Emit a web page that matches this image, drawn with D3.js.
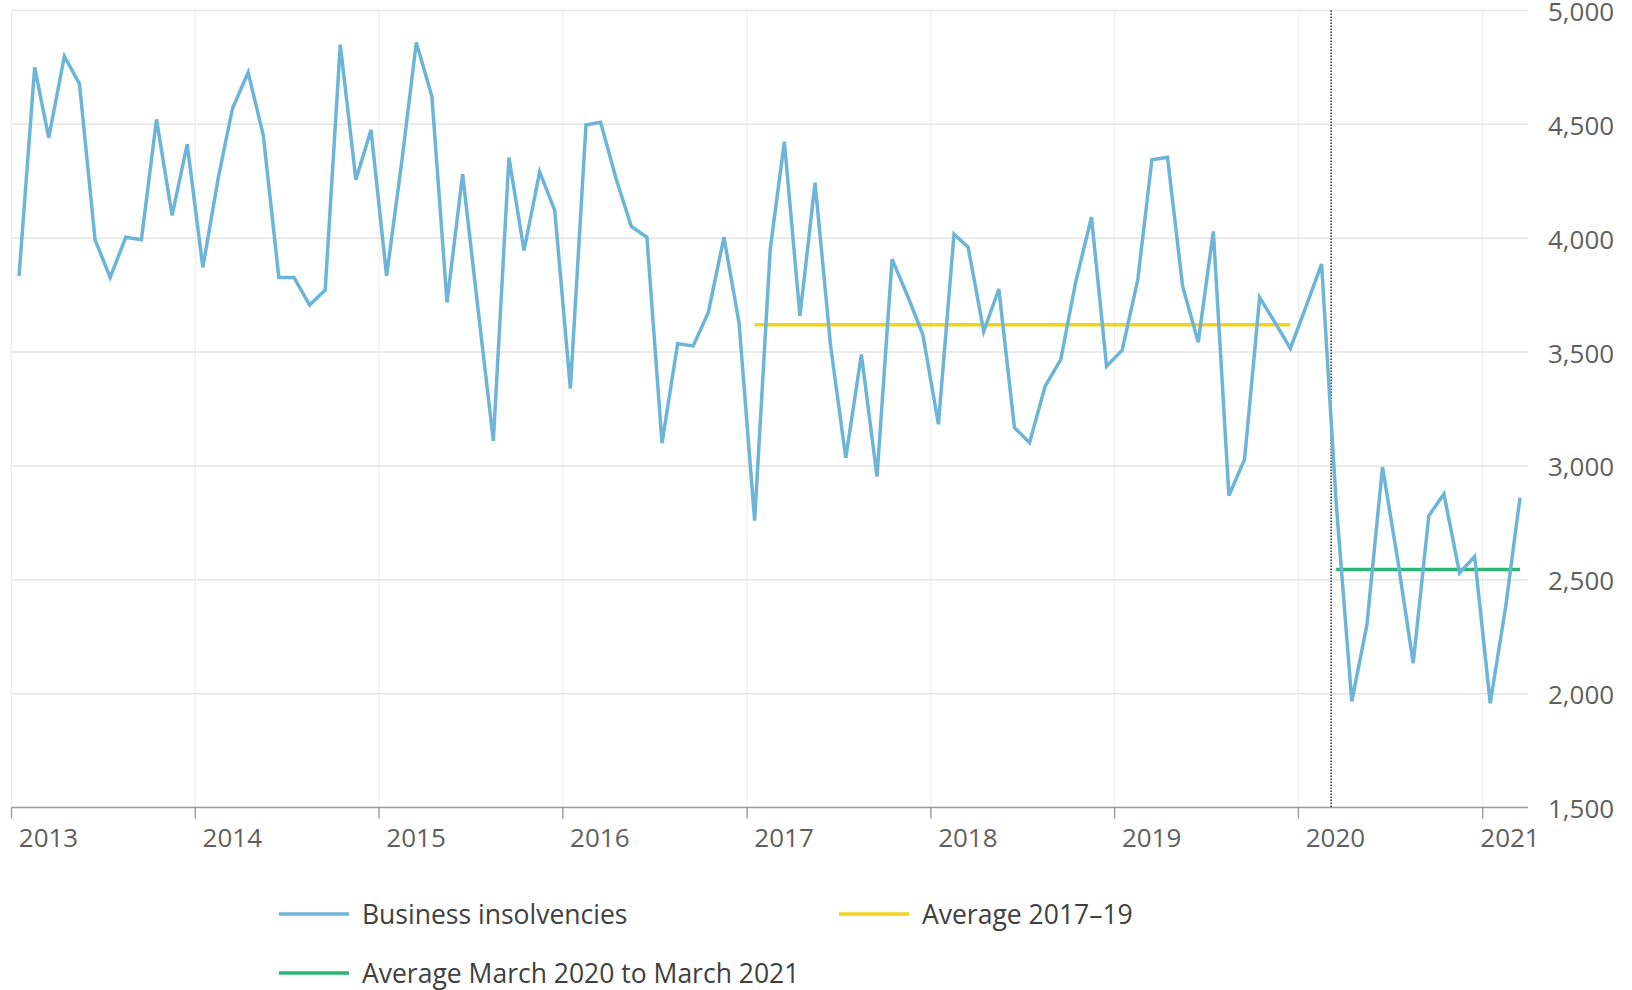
<!DOCTYPE html>
<html>
<head>
<meta charset="utf-8">
<script src="https://cdn.jsdelivr.net/npm/d3@7"></script>
<style>
  html, body { margin: 0; padding: 0; background: #ffffff; }
  svg { display: block; font-family: "Open Sans", "Noto Sans", sans-serif; }
</style>
</head>
<body>
<svg id="chart" width="1632" height="990"></svg>
<script>
// Monthly business insolvencies, January 2013 to March 2021
const years = [2013, 2014, 2015, 2016, 2017, 2018, 2019, 2020, 2021];
const insolvencies2013 = [3835, 4750, 4441, 4799, 4678, 3993, 3828, 4004, 3993, 4522, 4100, 4413];
const insolvencies2014 = [3872, 4269, 4571, 4728, 4453, 3828, 3828, 3707, 3772, 4850, 4257, 4475];
const insolvencies2015 = [3835, 4350, 4860, 4622, 3718, 4281, 3700, 3110, 4354, 3946, 4291, 4122];
const insolvencies2016 = [3340, 4497, 4509, 4260, 4052, 4004, 3100, 3537, 3527, 3674, 4004, 3629];
const insolvencies2017 = [2760, 3953, 4424, 3659, 4244, 3525, 3036, 3489, 2953, 3908, 3745, 3577];
const insolvencies2018 = [3183, 4018, 3961, 3591, 3777, 3168, 3102, 3350, 3467, 3811, 4092, 3438];
const insolvencies2019 = [3508, 3818, 4344, 4355, 3789, 3543, 4030, 2870, 3029, 3739, 3628, 3516];
const insolvencies2020 = [3700, 3886, 2838, 1966, 2302, 2995, 2590, 2134, 2781, 2877, 2530, 2602];
const insolvencies2021 = [1958, 2387, 2860];
const seriesByYear = [insolvencies2013, insolvencies2014, insolvencies2015, insolvencies2016,
  insolvencies2017, insolvencies2018, insolvencies2019, insolvencies2020, insolvencies2021];

// Reference averages
const average2017to2019 = 3620;
const averageMar2020toMar2021 = 2545;

const yTickValues = [1500, 2000, 2500, 3000, 3500, 4000, 4500, 5000];
const xTickYears = [2013, 2014, 2015, 2016, 2017, 2018, 2019, 2020, 2021];
const legendLabels = ["Business insolvencies", "Average 2017\u201319", "Average March 2020 to March 2021"];

const colors = { series: "#6db5d8", avgPre: "#f2d21e", avgPost: "#2cb674" };

// Build monthly points (plotted mid-month)
const points = [];
seriesByYear.forEach((vals, yi) => {
  vals.forEach((v, m) => points.push({ date: new Date(years[yi], m, 16), value: v }));
});

const svg = d3.select("#chart");
const plotLeft = 11.5, plotRight = 1528, plotTop = 10.5, plotBottom = 807.5;

const x = d3.scaleTime()
  .domain([new Date(2013, 0, 1), new Date(2021, 3, 1)])
  .range([plotLeft, plotRight]);
const y = d3.scaleLinear()
  .domain([1500, 5000])
  .range([plotBottom, plotTop]);

// Horizontal grid
svg.append("g").selectAll("line")
  .data(yTickValues.filter(d => d !== 1500))
  .join("line")
  .attr("x1", plotLeft).attr("x2", plotRight)
  .attr("y1", d => y(d)).attr("y2", d => y(d))
  .attr("stroke", "#e4e4e4").attr("stroke-width", 1.5);

// Vertical grid at year boundaries
const yearDates = xTickYears.map(yr => new Date(yr, 0, 1));
svg.append("g").selectAll("line")
  .data(yearDates)
  .join("line")
  .attr("x1", d => x(d)).attr("x2", d => x(d))
  .attr("y1", plotTop).attr("y2", plotBottom)
  .attr("stroke", "#ececec").attr("stroke-width", 1);

// Y axis labels on the right
svg.append("g").selectAll("text")
  .data(yTickValues)
  .join("text")
  .attr("x", 1548)
  .attr("y", d => y(d) + 10.5)
  .attr("fill", "#5f5f5f")
  .attr("font-size", 26)
  .text(d => d3.format(",")(d));

// X axis line and ticks
svg.append("line")
  .attr("x1", plotLeft).attr("x2", plotRight)
  .attr("y1", plotBottom).attr("y2", plotBottom)
  .attr("stroke", "#9c9c9c").attr("stroke-width", 1.6);
svg.append("g").selectAll("line")
  .data(yearDates)
  .join("line")
  .attr("x1", d => x(d)).attr("x2", d => x(d))
  .attr("y1", plotBottom).attr("y2", plotBottom + 11)
  .attr("stroke", "#9c9c9c").attr("stroke-width", 1.4);

// Year labels
svg.append("g").selectAll("text")
  .data(yearDates)
  .join("text")
  .attr("x", d => Math.min(x(d) + 37, plotRight - 18))
  .attr("y", 847)
  .attr("text-anchor", "middle")
  .attr("fill", "#5f5f5f")
  .attr("font-size", 26)
  .text(d => d.getFullYear());

// Marker for March 2020
const markerDate = new Date(2020, 2, 6);
svg.append("line")
  .attr("x1", x(markerDate)).attr("x2", x(markerDate))
  .attr("y1", plotTop).attr("y2", plotBottom)
  .attr("stroke", "#222").attr("stroke-width", 1.4)
  .attr("stroke-dasharray", "1.5,1.5");

// Average lines
svg.append("line")
  .attr("x1", x(new Date(2017, 0, 16))).attr("x2", x(new Date(2019, 11, 16)))
  .attr("y1", y(average2017to2019)).attr("y2", y(average2017to2019))
  .attr("stroke", colors.avgPre).attr("stroke-width", 3.5);
svg.append("line")
  .attr("x1", x(new Date(2020, 2, 16))).attr("x2", x(new Date(2021, 2, 16)))
  .attr("y1", y(averageMar2020toMar2021)).attr("y2", y(averageMar2020toMar2021))
  .attr("stroke", colors.avgPost).attr("stroke-width", 3.5);

// Insolvency series
svg.append("path")
  .datum(points)
  .attr("fill", "none")
  .attr("stroke", colors.series)
  .attr("stroke-width", 3.5)
  .attr("stroke-linejoin", "miter")
  .attr("d", d3.line().x(d => x(d.date)).y(d => y(d.value)));

// Legend
const legendItems = [
  { label: legendLabels[0], color: colors.series, lx: 279, ly: 914 },
  { label: legendLabels[1], color: colors.avgPre, lx: 839, ly: 914 },
  { label: legendLabels[2], color: colors.avgPost, lx: 279, ly: 973 }
];
const lg = svg.append("g").selectAll("g").data(legendItems).join("g");
lg.append("line")
  .attr("x1", d => d.lx).attr("x2", d => d.lx + 70)
  .attr("y1", d => d.ly).attr("y2", d => d.ly)
  .attr("stroke", d => d.color).attr("stroke-width", 3.5);
lg.append("text")
  .attr("x", d => d.lx + 83)
  .attr("y", d => d.ly + 10)
  .attr("fill", "#404040")
  .attr("font-size", 26.5)
  .text(d => d.label);
</script>
</body>
</html>
